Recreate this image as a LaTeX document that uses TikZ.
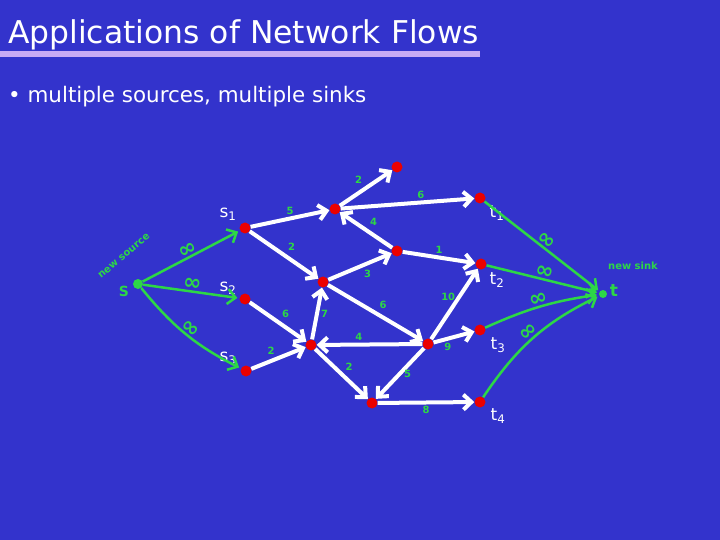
\documentclass[tikz,border=0pt]{standalone}
\usepackage{fontspec}
\setmainfont{DejaVu Sans}
\usetikzlibrary{arrows.meta}
\definecolor{slideblue}{RGB}{51,51,204}
\definecolor{penred}{RGB}{235,0,0}
\definecolor{pengreen}{RGB}{45,215,70}
\definecolor{barlilac}{RGB}{200,170,245}

\begin{document}
\begin{tikzpicture}[x=1bp, y=-1bp, >={Straight Barb[length=8bp,width=15bp]},
    vtx/.style={circle, fill=penred, minimum size=11bp, inner sep=0pt},
    flow/.style={->, white, line width=4bp},
    extra/.style={->, pengreen, line width=2.5bp, shorten >=2bp},
    caplbl/.style={text=pengreen, font=\bfseries\fontsize{10}{10}\selectfont, inner sep=2bp},
    inf/.style={text=pengreen, font=\bfseries\fontsize{22}{22}\selectfont, inner sep=0pt},
    lbl/.style={text=white, font=\fontsize{17}{17}\selectfont, inner sep=0pt},
    note/.style={text=pengreen, font=\bfseries\fontsize{10}{10}\selectfont, inner sep=0pt}]
  \fill[slideblue] (0,0) rectangle (720,540);
  \useasboundingbox (0,0) rectangle (720,540);

  \node[anchor=base west, text=white, font=\fontsize{31.5}{31.5}\selectfont, inner sep=0pt] (title) at (8,44) {Applications of Network Flows};
  \fill[barlilac] (0,51) rectangle (480,57);
  \node[anchor=base west, text=white, font=\fontsize{21.5}{21.5}\selectfont, inner sep=0pt] (point) at (8,103) {• multiple sources, multiple sinks};

  \node[vtx] (s1) at (245,228) {};
  \node[vtx] (s2) at (245,299) {};
  \node[vtx] (s3) at (246,371) {};
  \node[vtx] (a) at (335,209) {};
  \node[vtx] (b) at (397,167) {};
  \node[vtx] (c) at (397,251) {};
  \node[vtx] (d) at (323,282) {};
  \node[vtx] (e) at (311,345) {};
  \node[vtx] (f) at (428,344) {};
  \node[vtx] (g) at (372,403) {};
  \node[vtx] (t1) at (480,198) {};
  \node[vtx] (t2) at (481,264) {};
  \node[vtx] (t3) at (480,330) {};
  \node[vtx] (t4) at (480,402) {};

  \node[lbl] (s1l) at (228,214) {s\textsubscript{1}};
  \node[lbl] (s2l) at (228,288) {s\textsubscript{2}};
  \node[lbl] (s3l) at (228,358) {s\textsubscript{3}};
  \node[lbl] (t1l) at (497,213) {t\textsubscript{1}};
  \node[lbl] (t2l) at (497,280) {t\textsubscript{2}};
  \node[lbl] (t3l) at (498,345) {t\textsubscript{3}};
  \node[lbl] (t4l) at (498,416) {t\textsubscript{4}};

  \draw[flow] (s1) -- node[caplbl, above] {5} (a);
  \draw[flow] (s1) -- node[caplbl, above right] {2} (d);
  \draw[flow] (s2) -- node[caplbl, above right] {6} (e);
  \draw[flow] (s3) -- node[caplbl, above left] {2} (e);
  \draw[flow] (e) -- node[caplbl, right] {7} (d);
  \draw[flow] (d) -- node[caplbl, below right] {3} (c);
  \draw[flow] (d) -- node[caplbl, above right] {6} (f);
  \draw[flow] (f) -- node[caplbl, above, pos=0.6] {4} (e);
  \draw[flow] (e) -- node[caplbl, above right] {2} (g);
  \draw[flow] (f) -- node[caplbl, right] {5} (g);
  \draw[flow] (g) -- node[caplbl, below] {8} (t4);
  \draw[flow] (f) -- node[caplbl, below, pos=0.35] {9} (t3);
  \draw[flow] (f) -- node[caplbl, left, pos=0.6] {10} (t2);
  \draw[flow] (c) -- node[caplbl, above] {1} (t2);
  \draw[flow] (c) -- node[caplbl, above right] {4} (a);
  \draw[flow] (a) -- node[caplbl, above left] {2} (b);
  \draw[flow] (a) -- node[caplbl, above, pos=0.6] {6} (t1);

  \node[circle, fill=pengreen, minimum size=10bp, inner sep=0pt] (src) at (138,284) {};
  \node[circle, fill=pengreen, minimum size=8bp, inner sep=0pt] (snk) at (603,294) {};
  \node[note, rotate=40] (srcnote) at (124,256) {new source};
  \node[note] (snknote) at (633,266) {new sink};
  \node[note, font=\bfseries\fontsize{14}{14}\selectfont] (srcl) at (124,291) {S};
  \node[note, font=\bfseries\fontsize{17}{17}\selectfont] (snkl) at (614,291) {t};

  \draw[extra] (src) -- node[inf, above, sloped] {∞} (s1);
  \draw[extra] (src) -- node[inf, above, sloped] {∞} (s2);
  \draw[extra] (src) to[bend right=12] node[inf, above, sloped] {∞} (s3);
  \draw[extra] (t1) -- node[inf, above, sloped] {∞} (snk);
  \draw[extra] (t2) -- node[inf, above, sloped] {∞} (snk);
  \draw[extra] (t3) to[bend left=8] node[inf, above, sloped] {∞} (snk);
  \draw[extra] (t4) to[bend left=15] node[inf, above, sloped] {∞} (snk);
\end{tikzpicture}
\end{document}
